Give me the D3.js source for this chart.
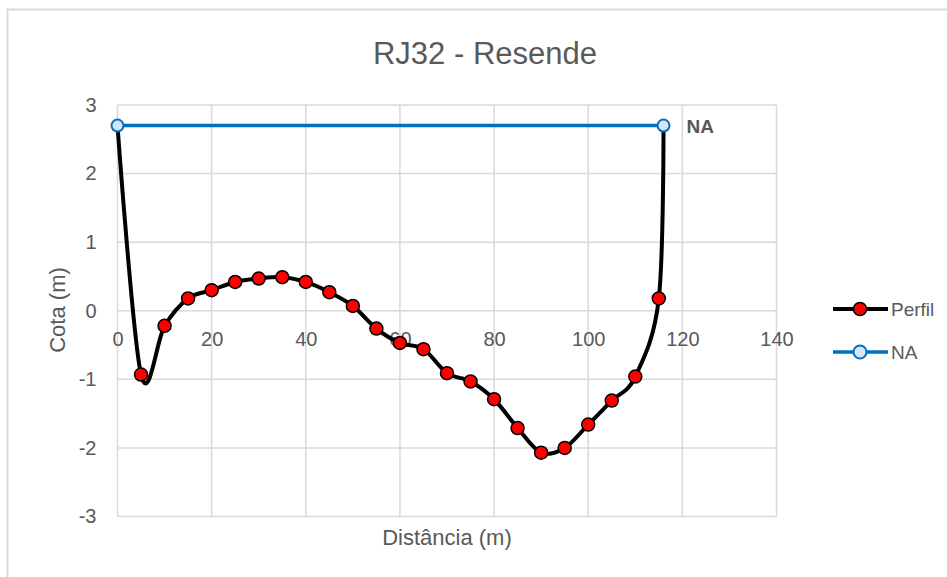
<!DOCTYPE html>
<html>
<head>
<meta charset="utf-8">
<script src="https://cdn.jsdelivr.net/npm/d3@7"></script>
<style>
  body { margin: 0; background: #fff; }
  svg { display: block; }
  text { font-family: "Liberation Sans Narrow", "Arial Narrow", "Liberation Sans", Arial, sans-serif; fill: #595959; }
</style>
</head>
<body>
<div id="plot"></div>
<script>
const width = 947;
const height = 577;

// ----- DATA ------------------------//
const perfilDist = [0, 5, 10, 15, 20, 25, 30, 35, 40, 45, 50, 55, 60, 65, 70, 75, 80, 85, 90, 95, 100, 105, 110, 115, 116];
const perfilCota = [2.7, -0.93, -0.22, 0.18, 0.30, 0.42, 0.47, 0.49, 0.42, 0.27, 0.07, -0.26, -0.47, -0.56, -0.91, -1.03, -1.29, -1.71, -2.07, -2.0, -1.66, -1.31, -0.96, 0.18, 2.7];
const naDist = [0, 116];
const naCota = [2.7, 2.7];
const xTicks = [0, 20, 40, 60, 80, 100, 120, 140];
const yTicks = [-3, -2, -1, 0, 1, 2, 3];
const seriesNames = ["Perfil", "NA"];

const perfil = perfilDist.map((d, i) => ({x: d, y: perfilCota[i]}));
const na = naDist.map((d, i) => ({x: d, y: naCota[i]}));

var svg = d3.select("#plot").append("svg")
    .attr("width", width)
    .attr("height", height);

// chart frame
svg.append("rect")
    .attr("x", 7.5).attr("y", 9.5)
    .attr("width", 960).attr("height", 600)
    .attr("fill", "none")
    .attr("stroke", "#d9d9d9")
    .attr("stroke-width", 2);

// Scale prep
const xScl = d3.scaleLinear().domain([0, 140]).range([117.5, 776.5]);
const yScl = d3.scaleLinear().domain([-3, 3]).range([516.5, 105]);

// grid
const grid = svg.append("g");
grid.selectAll(".vg").data(xTicks).enter().append("line")
    .attr("x1", d => xScl(d)).attr("x2", d => xScl(d))
    .attr("y1", yScl(3)).attr("y2", yScl(-3))
    .attr("stroke", "#d9d9d9").attr("stroke-width", 1.5);
grid.selectAll(".hg").data(yTicks).enter().append("line")
    .attr("x1", xScl(0)).attr("x2", xScl(140))
    .attr("y1", d => yScl(d)).attr("y2", d => yScl(d))
    .attr("stroke", "#d9d9d9").attr("stroke-width", 1.5);

// Axis prep (labels only, Excel style)
const xAxis = d3.axisBottom(xScl).tickValues(xTicks).tickSize(0).tickPadding(21)
    .tickFormat(d => String(d));
const yAxis = d3.axisLeft(yScl).tickValues(yTicks).tickSize(0).tickPadding(21)
    .tickFormat(d => String(d));

svg.append("g")
    .attr("transform", "translate(0," + yScl(0) + ")")
    .call(xAxis)
    .call(g => g.select(".domain").remove())
    .selectAll("text").style("font-size", "20px").attr("fill", "#595959");

svg.append("g")
    .attr("transform", "translate(" + xScl(0) + ",0)")
    .call(yAxis)
    .call(g => g.select(".domain").remove())
    .selectAll("text").style("font-size", "20px").attr("fill", "#595959");

// titles
svg.append("text")
    .attr("x", 485).attr("y", 64)
    .attr("text-anchor", "middle")
    .style("font-size", "31px")
    .text("RJ32 - Resende");

svg.append("text")
    .attr("transform", "translate(65,310) rotate(-90)")
    .attr("text-anchor", "middle")
    .style("font-size", "22px")
    .text("Cota (m)");

svg.append("text")
    .attr("x", 447).attr("y", 545)
    .attr("text-anchor", "middle")
    .style("font-size", "22px")
    .text("Distância (m)");

// lines
const smooth = d3.line()
    .x(d => xScl(d.x))
    .y(d => yScl(d.y))
    .curve(d3.curveCatmullRom.alpha(0));
const straight = d3.line()
    .x(d => xScl(d.x))
    .y(d => yScl(d.y));

svg.append("path")
    .attr("d", straight(na))
    .attr("fill", "none")
    .attr("stroke", "#0070c0")
    .attr("stroke-width", 3.5);

svg.append("path")
    .attr("d", smooth(perfil))
    .attr("fill", "none")
    .attr("stroke", "#000")
    .attr("stroke-width", 4)
    .attr("stroke-linejoin", "round");

svg.selectAll(".pm").data(perfil.slice(1, -1)).enter().append("circle")
    .attr("cx", d => xScl(d.x)).attr("cy", d => yScl(d.y))
    .attr("r", 6.5)
    .attr("fill", "#ff0000")
    .attr("stroke", "#000").attr("stroke-width", 1.5);

svg.selectAll(".nm").data(na).enter().append("circle")
    .attr("cx", d => xScl(d.x)).attr("cy", d => yScl(d.y))
    .attr("r", 6)
    .attr("fill", "#dae3f3")
    .attr("stroke", "#0070c0").attr("stroke-width", 2);

// NA label
svg.append("text")
    .attr("x", xScl(naDist[1]) + 23).attr("y", yScl(naCota[1]) + 7)
    .style("font-size", "19px")
    .style("font-weight", "bold")
    .attr("fill", "#404040")
    .text("NA");

// legend
const legend = svg.append("g");
const legItems = legend.selectAll("g").data(seriesNames).enter().append("g")
    .attr("transform", (d, i) => "translate(833," + (309 + i * 43) + ")");
legItems.append("line")
    .attr("x1", 0).attr("x2", 55)
    .attr("stroke", (d, i) => i === 0 ? "#000" : "#0070c0")
    .attr("stroke-width", (d, i) => i === 0 ? 4 : 3.5);
legItems.append("circle")
    .attr("cx", 27).attr("r", 6.5)
    .attr("fill", (d, i) => i === 0 ? "#ff0000" : "#dae3f3")
    .attr("stroke", (d, i) => i === 0 ? "#000" : "#0070c0")
    .attr("stroke-width", (d, i) => i === 0 ? 1.5 : 2);
legItems.append("text")
    .attr("x", 58).attr("y", 7)
    .style("font-size", "19px")
    .text(d => d);
</script>
</body>
</html>
